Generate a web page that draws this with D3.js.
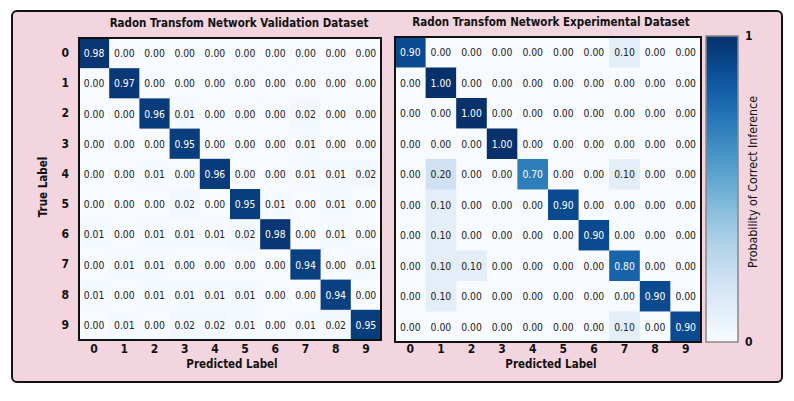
<!DOCTYPE html>
<html lang="en">
<head>
  <meta charset="utf-8">
  <title>Radon Transform Network Confusion Matrices</title>
  <style>
    body { margin: 0; background: #fff; }
    svg text { font-family: "DejaVu Sans Condensed", "DejaVu Sans", sans-serif; font-stretch: condensed; }
    .tick text { font-size: 12px; font-weight: bold; fill: #111; }
    .title { font-size: 11.5px; font-weight: bold; fill: #111; }
    .axis-label { font-size: 11.5px; font-weight: bold; fill: #111; }
    .cell-text { font-size: 10.3px; }
  </style>
</head>
<body>
<div id="chart"></div>
<script src="https://d3js.org/d3.v7.min.js"></script>
<script>
  // labels 0..9
  const labels = ["0", "1", "2", "3", "4", "5", "6", "7", "8", "9"];

  // validation dataset (rows = true label, cols = predicted)
  const validation = [
    [0.98, 0.00, 0.00, 0.00, 0.00, 0.00, 0.00, 0.00, 0.00, 0.00],
    [0.00, 0.97, 0.00, 0.00, 0.00, 0.00, 0.00, 0.00, 0.00, 0.00],
    [0.00, 0.00, 0.96, 0.01, 0.00, 0.00, 0.00, 0.02, 0.00, 0.00],
    [0.00, 0.00, 0.00, 0.95, 0.00, 0.00, 0.00, 0.01, 0.00, 0.00],
    [0.00, 0.00, 0.01, 0.00, 0.96, 0.00, 0.00, 0.01, 0.01, 0.02],
    [0.00, 0.00, 0.00, 0.02, 0.00, 0.95, 0.01, 0.00, 0.01, 0.00],
    [0.01, 0.00, 0.01, 0.01, 0.01, 0.02, 0.98, 0.00, 0.01, 0.00],
    [0.00, 0.01, 0.01, 0.00, 0.00, 0.00, 0.00, 0.94, 0.00, 0.01],
    [0.01, 0.00, 0.01, 0.01, 0.01, 0.01, 0.00, 0.00, 0.94, 0.00],
    [0.00, 0.01, 0.00, 0.02, 0.02, 0.01, 0.00, 0.01, 0.02, 0.95]
  ];

  // experimental dataset
  const experimental = [
    [0.90, 0.00, 0.00, 0.00, 0.00, 0.00, 0.00, 0.10, 0.00, 0.00],
    [0.00, 1.00, 0.00, 0.00, 0.00, 0.00, 0.00, 0.00, 0.00, 0.00],
    [0.00, 0.00, 1.00, 0.00, 0.00, 0.00, 0.00, 0.00, 0.00, 0.00],
    [0.00, 0.00, 0.00, 1.00, 0.00, 0.00, 0.00, 0.00, 0.00, 0.00],
    [0.00, 0.20, 0.00, 0.00, 0.70, 0.00, 0.00, 0.10, 0.00, 0.00],
    [0.00, 0.10, 0.00, 0.00, 0.00, 0.90, 0.00, 0.00, 0.00, 0.00],
    [0.00, 0.10, 0.00, 0.00, 0.00, 0.00, 0.90, 0.00, 0.00, 0.00],
    [0.00, 0.10, 0.10, 0.00, 0.00, 0.00, 0.00, 0.80, 0.00, 0.00],
    [0.00, 0.10, 0.00, 0.00, 0.00, 0.00, 0.00, 0.00, 0.90, 0.00],
    [0.00, 0.00, 0.00, 0.00, 0.00, 0.00, 0.00, 0.10, 0.00, 0.90]
  ];

  const colorbarTicks = [0, 1];

  const width = 794, height = 401;

  const svg = d3.select("#chart")
    .append("svg")
    .attr("width", width)
    .attr("height", height);

  // pink rounded frame
  svg.append("rect")
    .attr("x", 12).attr("y", 11)
    .attr("width", 770).attr("height", 371)
    .attr("rx", 5)
    .attr("fill", "#f2d5de")
    .attr("stroke", "#111")
    .attr("stroke-width", 2);

  const color = d3.scaleSequential(d3.interpolateBlues).domain([0, 1]);

  function drawMatrix(data, box, opts) {
    const g = svg.append("g").attr("transform", `translate(${box.x},${box.y})`);

    const x = d3.scaleBand().domain(labels).range([0, box.w]);
    const y = d3.scaleBand().domain(labels).range([0, box.h]);

    const cells = [];
    data.forEach((row, i) => row.forEach((v, j) => cells.push({ r: labels[i], c: labels[j], v })));

    g.selectAll("rect.cell")
      .data(cells)
      .join("rect")
      .attr("class", "cell")
      .attr("x", d => x(d.c))
      .attr("y", d => y(d.r))
      .attr("width", x.bandwidth() + 0.4)
      .attr("height", y.bandwidth() + 0.4)
      .attr("fill", d => color(d.v));

    g.selectAll("text.cell-text")
      .data(cells)
      .join("text")
      .attr("class", "cell-text")
      .attr("x", d => x(d.c) + x.bandwidth() / 2)
      .attr("y", d => y(d.r) + y.bandwidth() / 2)
      .attr("text-anchor", "middle")
      .attr("dominant-baseline", "central")
      .attr("fill", d => d.v > 0.5 ? "#fff" : "#222")
      .text(d => d.v.toFixed(2));

    // outline
    g.append("rect")
      .attr("width", box.w).attr("height", box.h)
      .attr("fill", "none")
      .attr("stroke", "#111")
      .attr("stroke-width", 2);

    const xAxis = g.append("g")
      .attr("transform", `translate(0,${box.h})`)
      .call(d3.axisBottom(x).tickSize(0).tickPadding(opts.xPad));
    xAxis.select(".domain").remove();

    if (opts.yAxis) {
      const yAxis = g.append("g")
        .call(d3.axisLeft(y).tickSize(0).tickPadding(10));
      yAxis.select(".domain").remove();

      g.append("text")
        .attr("class", "axis-label")
        .attr("transform", `translate(${-36},${box.h / 2 - 2}) rotate(-90)`)
        .attr("text-anchor", "middle")
        .attr("dominant-baseline", "central")
        .text("True Label");
    }

    g.append("text")
      .attr("class", "title")
      .attr("x", box.w / 2 + opts.titleDx)
      .attr("y", -15)
      .attr("text-anchor", "middle")
      .attr("dominant-baseline", "central")
      .text(opts.title);

    g.append("text")
      .attr("class", "axis-label")
      .attr("x", box.w / 2 + opts.labelDx)
      .attr("y", box.h + opts.labelDy)
      .attr("text-anchor", "middle")
      .attr("dominant-baseline", "central")
      .text("Predicted Label");
  }

  drawMatrix(validation, { x: 79, y: 38, w: 302, h: 302 },
    { yAxis: true, xPad: 4, title: "Radon Transfom Network Validation Dataset", titleDx: 9, labelDx: 2, labelDy: 24 });

  drawMatrix(experimental, { x: 395, y: 37, w: 306, h: 305 },
    { yAxis: false, xPad: 2, title: "Radon Transfom Network Experimental Dataset", titleDx: 3, labelDx: 3, labelDy: 22 });

  // colorbar
  const cb = { x: 706, y: 36, w: 32, h: 306 };
  const defs = svg.append("defs");
  const grad = defs.append("linearGradient")
    .attr("id", "cbGrad")
    .attr("x1", "0").attr("y1", "1")
    .attr("x2", "0").attr("y2", "0");
  d3.range(0, 1.0001, 0.05).forEach(t => {
    grad.append("stop").attr("offset", t).attr("stop-color", color(t));
  });

  const cbScale = d3.scaleLinear().domain([0, 1]).range([cb.y + cb.h, cb.y]);

  svg.append("rect")
    .attr("x", cb.x).attr("y", cb.y)
    .attr("width", cb.w).attr("height", cb.h)
    .attr("fill", "url(#cbGrad)")
    .attr("stroke", "#888")
    .attr("stroke-width", 1.5);

  const cbAxis = svg.append("g")
    .attr("transform", `translate(${cb.x + cb.w},0)`)
    .call(d3.axisRight(cbScale).tickValues(colorbarTicks).tickFormat(d3.format("d")).tickSize(0).tickPadding(7));
  cbAxis.select(".domain").remove();

  svg.append("text")
    .attr("class", "axis-label")
    .attr("transform", `translate(${cb.x + cb.w + 15},${cb.y + cb.h / 2 - 7}) rotate(-90)`)
    .attr("text-anchor", "middle")
    .attr("dominant-baseline", "central")
    .style("font-weight", "normal")
    .style("font-size", "12.3px")
    .text("Probability of Correct Inference");
</script>
</body>
</html>
